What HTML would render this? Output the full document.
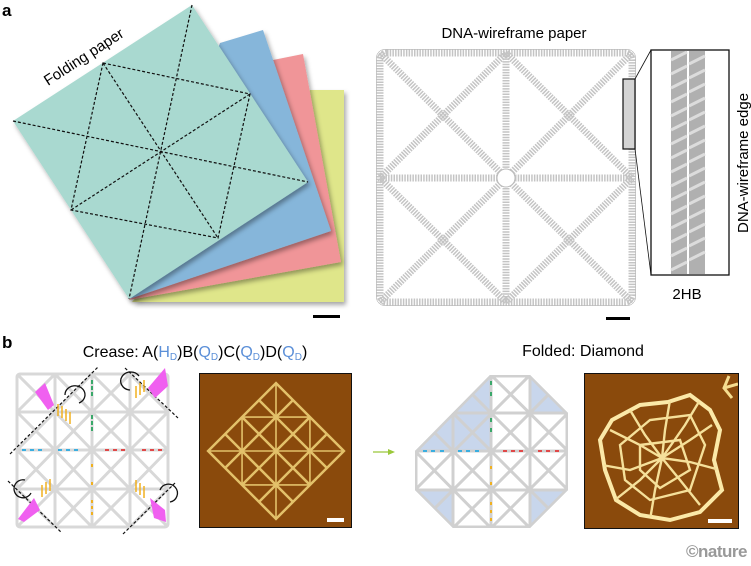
<!DOCTYPE html>
<html><head><style>
html,body{margin:0;padding:0;background:#fff;}
svg{display:block;font-family:"Liberation Sans",Arial,sans-serif;}
</style></head><body>
<svg width="751" height="566" viewBox="0 0 751 566" xmlns="http://www.w3.org/2000/svg">
<defs>
<filter id="sh" x="-10%" y="-10%" width="130%" height="130%"><feDropShadow dx="2" dy="3" stdDeviation="2.5" flood-color="#000" flood-opacity="0.35"/></filter>
<clipPath id="oct"><polygon points="490,375 530,375 568,413 568,490 530,528 453,528 415,490 415,451"/></clipPath>
<clipPath id="blob"><polygon points="612,420 640,405 668,402 690,395 710,410 720,430 714,460 722,490 700,512 670,520 640,515 616,500 605,470 600,440"/></clipPath>
<clipPath id="afm2"><rect x="584" y="373" width="154" height="155"/></clipPath>
</defs>

<text x="2" y="16" font-size="17" font-weight="bold">a</text>
<polygon points="310,90 344,90 344,302 132,302" fill="#dfe68a" filter="url(#sh)"/>
<polygon points="129,300 273,60 303,54 341,262" fill="#f09598" filter="url(#sh)"/>
<polygon points="129,299 220,43 263,30 331,231" fill="#86b6da" filter="url(#sh)"/>
<polygon points="192,5 308,182 129,299 13,121" fill="#a9d9d0" filter="url(#sh)"/>
<g stroke="#111" stroke-width="1.2" stroke-dasharray="3,2" fill="none">
<line x1="13" y1="121" x2="308" y2="182"/>
<line x1="192" y1="5" x2="129" y2="299"/>
<line x1="103" y1="63" x2="218" y2="238"/>
<line x1="250" y1="94" x2="71" y2="210"/>
<polygon points="103,63 250,94 218,238 71,210"/>
</g>
<text x="0" y="0" font-size="15" transform="translate(48,86) rotate(-33)">Folding paper</text>
<rect x="313" y="315" width="27" height="3" fill="#000"/>

<text x="514" y="38" font-size="15" text-anchor="middle">DNA-wireframe paper</text>
<g fill="none" stroke="#c4c4c4" stroke-width="7" stroke-dasharray="1.5,1.2">
<rect x="380" y="53" width="252" height="249" rx="7"/>
<line x1="506" y1="53" x2="506" y2="302"/>
<line x1="380" y1="178" x2="632" y2="178"/>
<line x1="380" y1="53" x2="506" y2="178"/>
<line x1="506" y1="53" x2="380" y2="178"/>
<line x1="506" y1="53" x2="632" y2="178"/>
<line x1="632" y1="53" x2="506" y2="178"/>
<line x1="380" y1="178" x2="506" y2="302"/>
<line x1="506" y1="178" x2="380" y2="302"/>
<line x1="506" y1="178" x2="632" y2="302"/>
<line x1="632" y1="178" x2="506" y2="302"/>
</g>
<rect x="376.5" y="49.5" width="259" height="256" rx="8" fill="none" stroke="#999" stroke-width="0.5"/>
<circle cx="506" cy="178" r="9" fill="#fff" stroke="#bbb" stroke-width="1"/>
<rect x="623" y="79" width="12" height="70" fill="#d4d4d4" stroke="#111" stroke-width="1.2"/>
<line x1="635" y1="79" x2="651" y2="50" stroke="#111" stroke-width="0.8"/>
<line x1="635" y1="149" x2="651" y2="275" stroke="#111" stroke-width="0.8"/>
<rect x="651" y="50" width="78" height="225" fill="#fff" stroke="#111" stroke-width="1.3"/>
<rect x="671" y="51" width="16" height="223" fill="#b0b0b0"/>
<rect x="689" y="51" width="16" height="223" fill="#b0b0b0"/>
<g stroke="#dcdcdc" stroke-width="3">
<line x1="671" y1="60" x2="687" y2="52"/><line x1="671" y1="74" x2="687" y2="66"/><line x1="671" y1="88" x2="687" y2="80"/><line x1="671" y1="102" x2="687" y2="94"/><line x1="671" y1="116" x2="687" y2="108"/><line x1="671" y1="130" x2="687" y2="122"/><line x1="671" y1="144" x2="687" y2="136"/><line x1="671" y1="158" x2="687" y2="150"/><line x1="671" y1="172" x2="687" y2="164"/><line x1="671" y1="186" x2="687" y2="178"/><line x1="671" y1="200" x2="687" y2="192"/><line x1="671" y1="214" x2="687" y2="206"/><line x1="671" y1="228" x2="687" y2="220"/><line x1="671" y1="242" x2="687" y2="234"/><line x1="671" y1="256" x2="687" y2="248"/><line x1="671" y1="270" x2="687" y2="262"/>
<line x1="689" y1="64" x2="705" y2="56"/><line x1="689" y1="78" x2="705" y2="70"/><line x1="689" y1="92" x2="705" y2="84"/><line x1="689" y1="106" x2="705" y2="98"/><line x1="689" y1="120" x2="705" y2="112"/><line x1="689" y1="134" x2="705" y2="126"/><line x1="689" y1="148" x2="705" y2="140"/><line x1="689" y1="162" x2="705" y2="154"/><line x1="689" y1="176" x2="705" y2="168"/><line x1="689" y1="190" x2="705" y2="182"/><line x1="689" y1="204" x2="705" y2="196"/><line x1="689" y1="218" x2="705" y2="210"/><line x1="689" y1="232" x2="705" y2="224"/><line x1="689" y1="246" x2="705" y2="238"/><line x1="689" y1="260" x2="705" y2="252"/>
</g>
<text x="687" y="299" font-size="15" text-anchor="middle">2HB</text>
<text x="0" y="0" font-size="15" text-anchor="middle" transform="translate(748,163) rotate(-90)">DNA-wireframe edge</text>
<rect x="606" y="317" width="24" height="3" fill="#000"/>

<text x="2" y="348" font-size="17" font-weight="bold">b</text>
<text x="195" y="357" font-size="16" text-anchor="middle">Crease: A(<tspan fill="#5b8fd8">H<tspan font-size="10" dy="3">D</tspan></tspan><tspan dy="-3">)B(</tspan><tspan fill="#5b8fd8">Q<tspan font-size="10" dy="3">D</tspan></tspan><tspan dy="-3">)C(</tspan><tspan fill="#5b8fd8">Q<tspan font-size="10" dy="3">D</tspan></tspan><tspan dy="-3">)D(</tspan><tspan fill="#5b8fd8">Q<tspan font-size="10" dy="3">D</tspan></tspan><tspan dy="-3">)</tspan></text>

<g fill="none" stroke="#d8d8d8" stroke-width="3">
<rect x="17" y="374" width="151" height="153" rx="3"/>
<line x1="55" y1="374" x2="55" y2="527"/><line x1="92" y1="374" x2="92" y2="527"/><line x1="130" y1="374" x2="130" y2="527"/>
<line x1="17" y1="412" x2="168" y2="412"/><line x1="17" y1="450" x2="168" y2="450"/><line x1="17" y1="489" x2="168" y2="489"/>
<path d="M17,374 L55,412 M55,374 L17,412 M55,374 L92,412 M92,374 L55,412 M92,374 L130,412 M130,374 L92,412 M130,374 L168,412 M168,374 L130,412
M17,412 L55,450 M55,412 L17,450 M55,412 L92,450 M92,412 L55,450 M92,412 L130,450 M130,412 L92,450 M130,412 L168,450 M168,412 L130,450
M17,450 L55,489 M55,450 L17,489 M55,450 L92,489 M92,450 L55,489 M92,450 L130,489 M130,450 L92,489 M130,450 L168,489 M168,450 L130,489
M17,489 L55,527 M55,489 L17,527 M55,489 L92,527 M92,489 L55,527 M92,489 L130,527 M130,489 L92,527 M130,489 L168,527 M168,489 L130,527"/>
</g>
<g stroke-width="2">
<path d="M92,380 v4 M92,386 v4 M92,392 v4 M92,415 v4 M92,421 v4 M92,427 v4" stroke="#3aa86a"/>
<path d="M22,450 h4 M30,450 h4 M38,450 h4 M58,450 h4 M66,450 h4 M74,450 h4" stroke="#3aaee0"/>
<path d="M105,450 h4 M113,450 h4 M121,450 h4 M142,450 h4 M150,450 h4 M158,450 h4" stroke="#e04848"/>
<path d="M92,464 v3 M92,482 v3 M92,500 v3 M92,506 v3 M92,512 v3" stroke="#f0b020"/>
</g>
<g stroke="#111" stroke-width="1.2" stroke-dasharray="3,2">
<line x1="10" y1="454" x2="98" y2="367"/>
<line x1="125" y1="368" x2="178" y2="418"/>
<line x1="8" y1="481" x2="62" y2="533"/>
<line x1="123" y1="534" x2="175" y2="483"/>
</g>
<g fill="#f060f0">
<polygon points="35,392 45,383 54,405 48,410"/>
<polygon points="148,388 165,368 168,386 155,398"/>
<polygon points="18,519 34,498 40,510 24,522"/>
<polygon points="150,498 165,510 166,522 154,518"/>
</g>
<g stroke="#f0b020" stroke-width="1.5">
<path d="M58,404 v12 M62,406 v12 M66,409 v12 M70,412 v12"/>
<path d="M136,398 v-12 M140,395 v-12 M144,392 v-12"/>
<path d="M42,497 v-12 M46,494 v-12 M50,491 v-12"/>
<path d="M136,480 v12 M140,483 v12 M144,486 v12"/>
</g>
<g fill="none" stroke="#111" stroke-width="1.3">
<path d="M65,395 a10,9 0 1,1 14,8"/><path d="M139,376 a10,9 0 1,0 -9,14"/>
<path d="M25,480 a9,9 0 1,0 6,13"/><path d="M160,490 a9,9 0 1,1 10,12"/>
</g>

<rect x="199.5" y="373.5" width="152" height="154" fill="#8a4a0c" stroke="#111" stroke-width="1"/>
<g transform="translate(276,451) rotate(45)" fill="none" stroke="#e8c870" stroke-width="2.5" opacity="0.95">
<rect x="-48" y="-48" width="96" height="96"/>
<path d="M-24,-48 V48 M0,-48 V48 M24,-48 V48 M-48,-24 H48 M-48,0 H48 M-48,24 H48"/>
<path d="M-48,-48 L0,0 M0,-48 L-48,0 M0,-48 L48,0 M48,-48 L0,0 M-48,0 L0,48 M0,0 L-48,48 M0,0 L48,48 M48,0 L0,48" stroke-width="1.6"/>
</g>
<rect x="327" y="518" width="17" height="4" fill="#fff"/>

<line x1="373" y1="452" x2="391" y2="452" stroke="#9bc83a" stroke-width="1.3"/>
<polygon points="395,452 388,449 388,455" fill="#9bc83a"/>

<text x="583" y="356" font-size="16" text-anchor="middle">Folded: Diamond</text>
<polygon points="490,375 530,375 568,413 568,490 530,528 453,528 415,490 415,451" fill="#fff"/>
<g fill="#c8d6ec">
<polygon points="490,375 490,451 415,451"/>
<polygon points="530,375 568,413 530,413"/>
<polygon points="415,490 453,490 453,528"/>
<polygon points="568,490 530,490 530,528"/>
</g>
<g clip-path="url(#oct)" fill="none" stroke="#d0d0d0" stroke-width="3">
<line x1="453" y1="375" x2="453" y2="528"/><line x1="491" y1="375" x2="491" y2="528"/><line x1="530" y1="375" x2="530" y2="528"/>
<line x1="415" y1="413" x2="568" y2="413"/><line x1="415" y1="451" x2="568" y2="451"/><line x1="415" y1="490" x2="568" y2="490"/>
<path d="M415,375 L568,528 M568,375 L415,528 M453,375 L568,490 M415,413 L530,528 M491,375 L568,451 M415,451 L491,528 M530,375 L568,413 M415,490 L453,528 M530,375 L415,490 M568,413 L453,528 M491,375 L415,451 M568,451 L491,528 M568,490 L530,528 M453,375 L415,413"/>
<polygon points="490,375 530,375 568,413 568,490 530,528 453,528 415,490 415,451" stroke-width="5"/>
</g>
<g stroke-width="2">
<path d="M491,381 v4 M491,392 v4 M491,418 v4 M491,428 v4" stroke="#3aa86a"/>
<path d="M423,451 h4 M431,451 h4 M440,451 h4 M458,451 h4 M466,451 h4 M475,451 h4" stroke="#3aaee0"/>
<path d="M503,451 h4 M511,451 h4 M519,451 h4 M538,451 h4 M546,451 h4 M555,451 h4" stroke="#e04848"/>
<path d="M491,466 v3 M491,482 v3 M491,502 v3 M491,510 v3 M491,518 v3" stroke="#f0b020"/>
</g>

<rect x="584.5" y="373.5" width="154" height="155" fill="#8a4a0c" stroke="#111" stroke-width="1"/>
<g clip-path="url(#afm2)" fill="none" stroke="#f5dd90" stroke-width="3">
<path d="M729,376 L724,388 L732,398 M724,388 L738,384"/>
</g>
<polygon points="612,420 640,405 668,402 690,395 710,410 720,430 714,460 722,490 700,512 670,520 640,515 616,500 605,470 600,440" fill="none" stroke="#fbe9a8" stroke-width="4"/>
<g clip-path="url(#blob)" fill="none" stroke="#f5e09a" stroke-width="2.4">
<path d="M610,430 L640,445 L662,458 L690,440 L712,425 M630,410 L645,435 L662,458 L680,480 L700,505 M670,400 L665,430 L662,458 L655,490 L650,520 M602,465 L630,470 L662,458 L690,462 L720,470 M615,500 L640,480 L662,458 L685,425 L700,400 M620,445 L650,420 L690,415 L705,445 L690,490 L650,500 L625,480 Z M640,445 L680,440 L690,470 L660,488 L640,470 Z"/>
</g>
<rect x="708" y="519" width="24" height="4" fill="#fff"/>

<text x="747" y="557" font-size="17" font-weight="bold" fill="#999" text-anchor="end" letter-spacing="-0.5">©nature</text>
</svg>
</body></html>
